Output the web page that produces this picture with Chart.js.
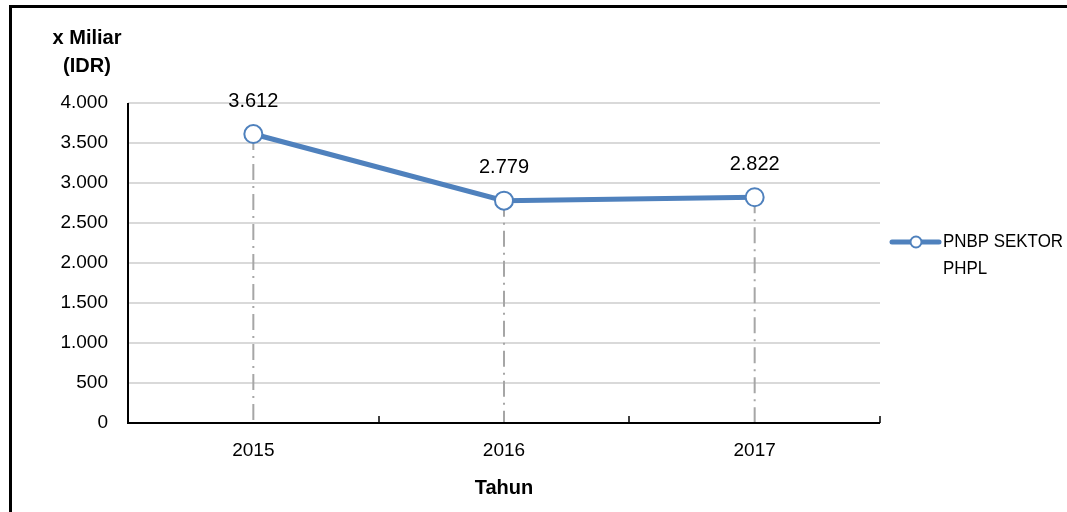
<!DOCTYPE html>
<html>
<head>
<meta charset="utf-8">
<script src="https://cdn.jsdelivr.net/npm/chart.js@4/dist/chart.umd.min.js"></script>
<style>
  html, body { margin: 0; padding: 0; background: #fff; }
  #wrap { position: relative; width: 1067px; height: 512px; overflow: hidden; }
  #frame { position: absolute; left: 9px; top: 5px; width: 1200px; height: 600px;
           border-top: 3px solid #000; border-left: 3px solid #000;
           box-shadow: 0 1px 0 #bbb; }
  canvas { position: absolute; left: 0; top: 0; }
</style>
</head>
<body>
<div id="wrap">
  <div id="frame"></div>
  <canvas id="c" width="1067" height="512"></canvas>
</div>
<script>
  // Data PNBP sektor PHPL (x Miliar IDR)
  const years  = ['2015', '2016', '2017'];
  const values = [3612, 2779, 2822];
  const yTicks = [0, 500, 1000, 1500, 2000, 2500, 3000, 3500, 4000];
  const seriesName = ['PNBP SEKTOR', 'PHPL'];
  const yTitle = ['x Miliar', '(IDR)'];
  const xTitle = 'Tahun';

  const FONT = "'Liberation Sans', Arial, sans-serif";
  const BLUE = '#4f81bd';
  const fmt = v => v.toLocaleString('id-ID');

  /** Garis bantu, sumbu, label data, legenda */
  const excelLook = {
    id: 'excelLook',
    beforeDatasetsDraw(chart) {
      const { ctx, chartArea: a, scales: { x } } = chart;
      const pts = chart.getDatasetMeta(0).data;
      ctx.save();
      // garis jatuh putus-putus
      ctx.strokeStyle = '#a6a6a6';
      ctx.lineWidth = 2;
      ctx.setLineDash([16, 6, 2, 6]);
      pts.forEach(p => {
        ctx.beginPath();
        ctx.moveTo(p.x, p.y);
        ctx.lineTo(p.x, a.bottom);
        ctx.stroke();
      });
      ctx.setLineDash([]);
      // sumbu
      ctx.strokeStyle = '#000';
      ctx.lineWidth = 2;
      ctx.beginPath();
      ctx.moveTo(a.left, a.top);
      ctx.lineTo(a.left, a.bottom);
      ctx.lineTo(a.right, a.bottom);
      ctx.stroke();
      // tick kategori ke dalam
      ctx.lineWidth = 1.5;
      years.forEach((_, i) => {
        const tx = Math.round(x.getPixelForValue(i + 0.5));
        ctx.beginPath();
        ctx.moveTo(tx, a.bottom);
        ctx.lineTo(tx, a.bottom - 7);
        ctx.stroke();
      });
      ctx.restore();
    },
    afterDatasetsDraw(chart) {
      const { ctx, chartArea: a } = chart;
      const pts = chart.getDatasetMeta(0).data;
      ctx.save();
      ctx.fillStyle = '#000';
      ctx.font = '20px ' + FONT;
      ctx.textAlign = 'center';
      ctx.textBaseline = 'middle';
      pts.forEach((p, i) => ctx.fillText(fmt(values[i]), p.x, p.y - 33));

      // judul sumbu
      ctx.font = 'bold 20px ' + FONT;
      ctx.fillText(yTitle[0], 87, 38);
      ctx.fillText(yTitle[1], 87, 66);
      ctx.fillText(xTitle, (a.left + a.right) / 2, 488);

      // legenda
      const ly = 242;
      ctx.strokeStyle = BLUE;
      ctx.lineWidth = 5;
      ctx.lineCap = 'round';
      ctx.beginPath();
      ctx.moveTo(892, ly);
      ctx.lineTo(939, ly);
      ctx.stroke();
      ctx.beginPath();
      ctx.arc(916, ly, 5.5, 0, Math.PI * 2);
      ctx.fillStyle = '#fff';
      ctx.fill();
      ctx.lineWidth = 2;
      ctx.stroke();
      ctx.fillStyle = '#000';
      ctx.font = '19px ' + FONT;
      ctx.textAlign = 'left';
      const k = Math.min(1, 120 / ctx.measureText(seriesName[0]).width);
      ctx.translate(943, ly);
      ctx.scale(k, 1);
      ctx.fillText(seriesName[0], 0, 0);
      ctx.fillText(seriesName[1], 0, 27);
      ctx.restore();
    }
  };

  new Chart(document.getElementById('c'), {
    type: 'line',
    data: {
      labels: years,
      datasets: [{
        label: seriesName.join(' '),
        data: values,
        borderColor: BLUE,
        borderWidth: 5,
        tension: 0,
        pointRadius: 9,
        pointHoverRadius: 9,
        pointBorderWidth: 2,
        pointBorderColor: BLUE,
        pointBackgroundColor: '#fff'
      }]
    },
    options: {
      responsive: false,
      animation: false,
      layout: { padding: { left: 0, top: 103, right: 187, bottom: 0 } },
      plugins: { legend: { display: false }, tooltip: { enabled: false } },
      scales: {
        x: {
          type: 'category',
          offset: true,
          afterFit: s => { s.height = 89; },
          grid: { display: false, drawTicks: false },
          border: { display: false },
          ticks: { color: '#000', padding: 16, font: { family: FONT, size: 19 } }
        },
        y: {
          min: 0,
          max: 4000,
          afterFit: s => { s.width = 128; },
          afterBuildTicks: s => { s.ticks = yTicks.map(v => ({ value: v })); },
          grid: { color: '#d9d9d9', lineWidth: 2, drawTicks: false },
          border: { display: false },
          ticks: { color: '#000', padding: 20, font: { family: FONT, size: 19 }, callback: v => fmt(v) }
        }
      }
    },
    plugins: [excelLook]
  });
</script>
</body>
</html>
